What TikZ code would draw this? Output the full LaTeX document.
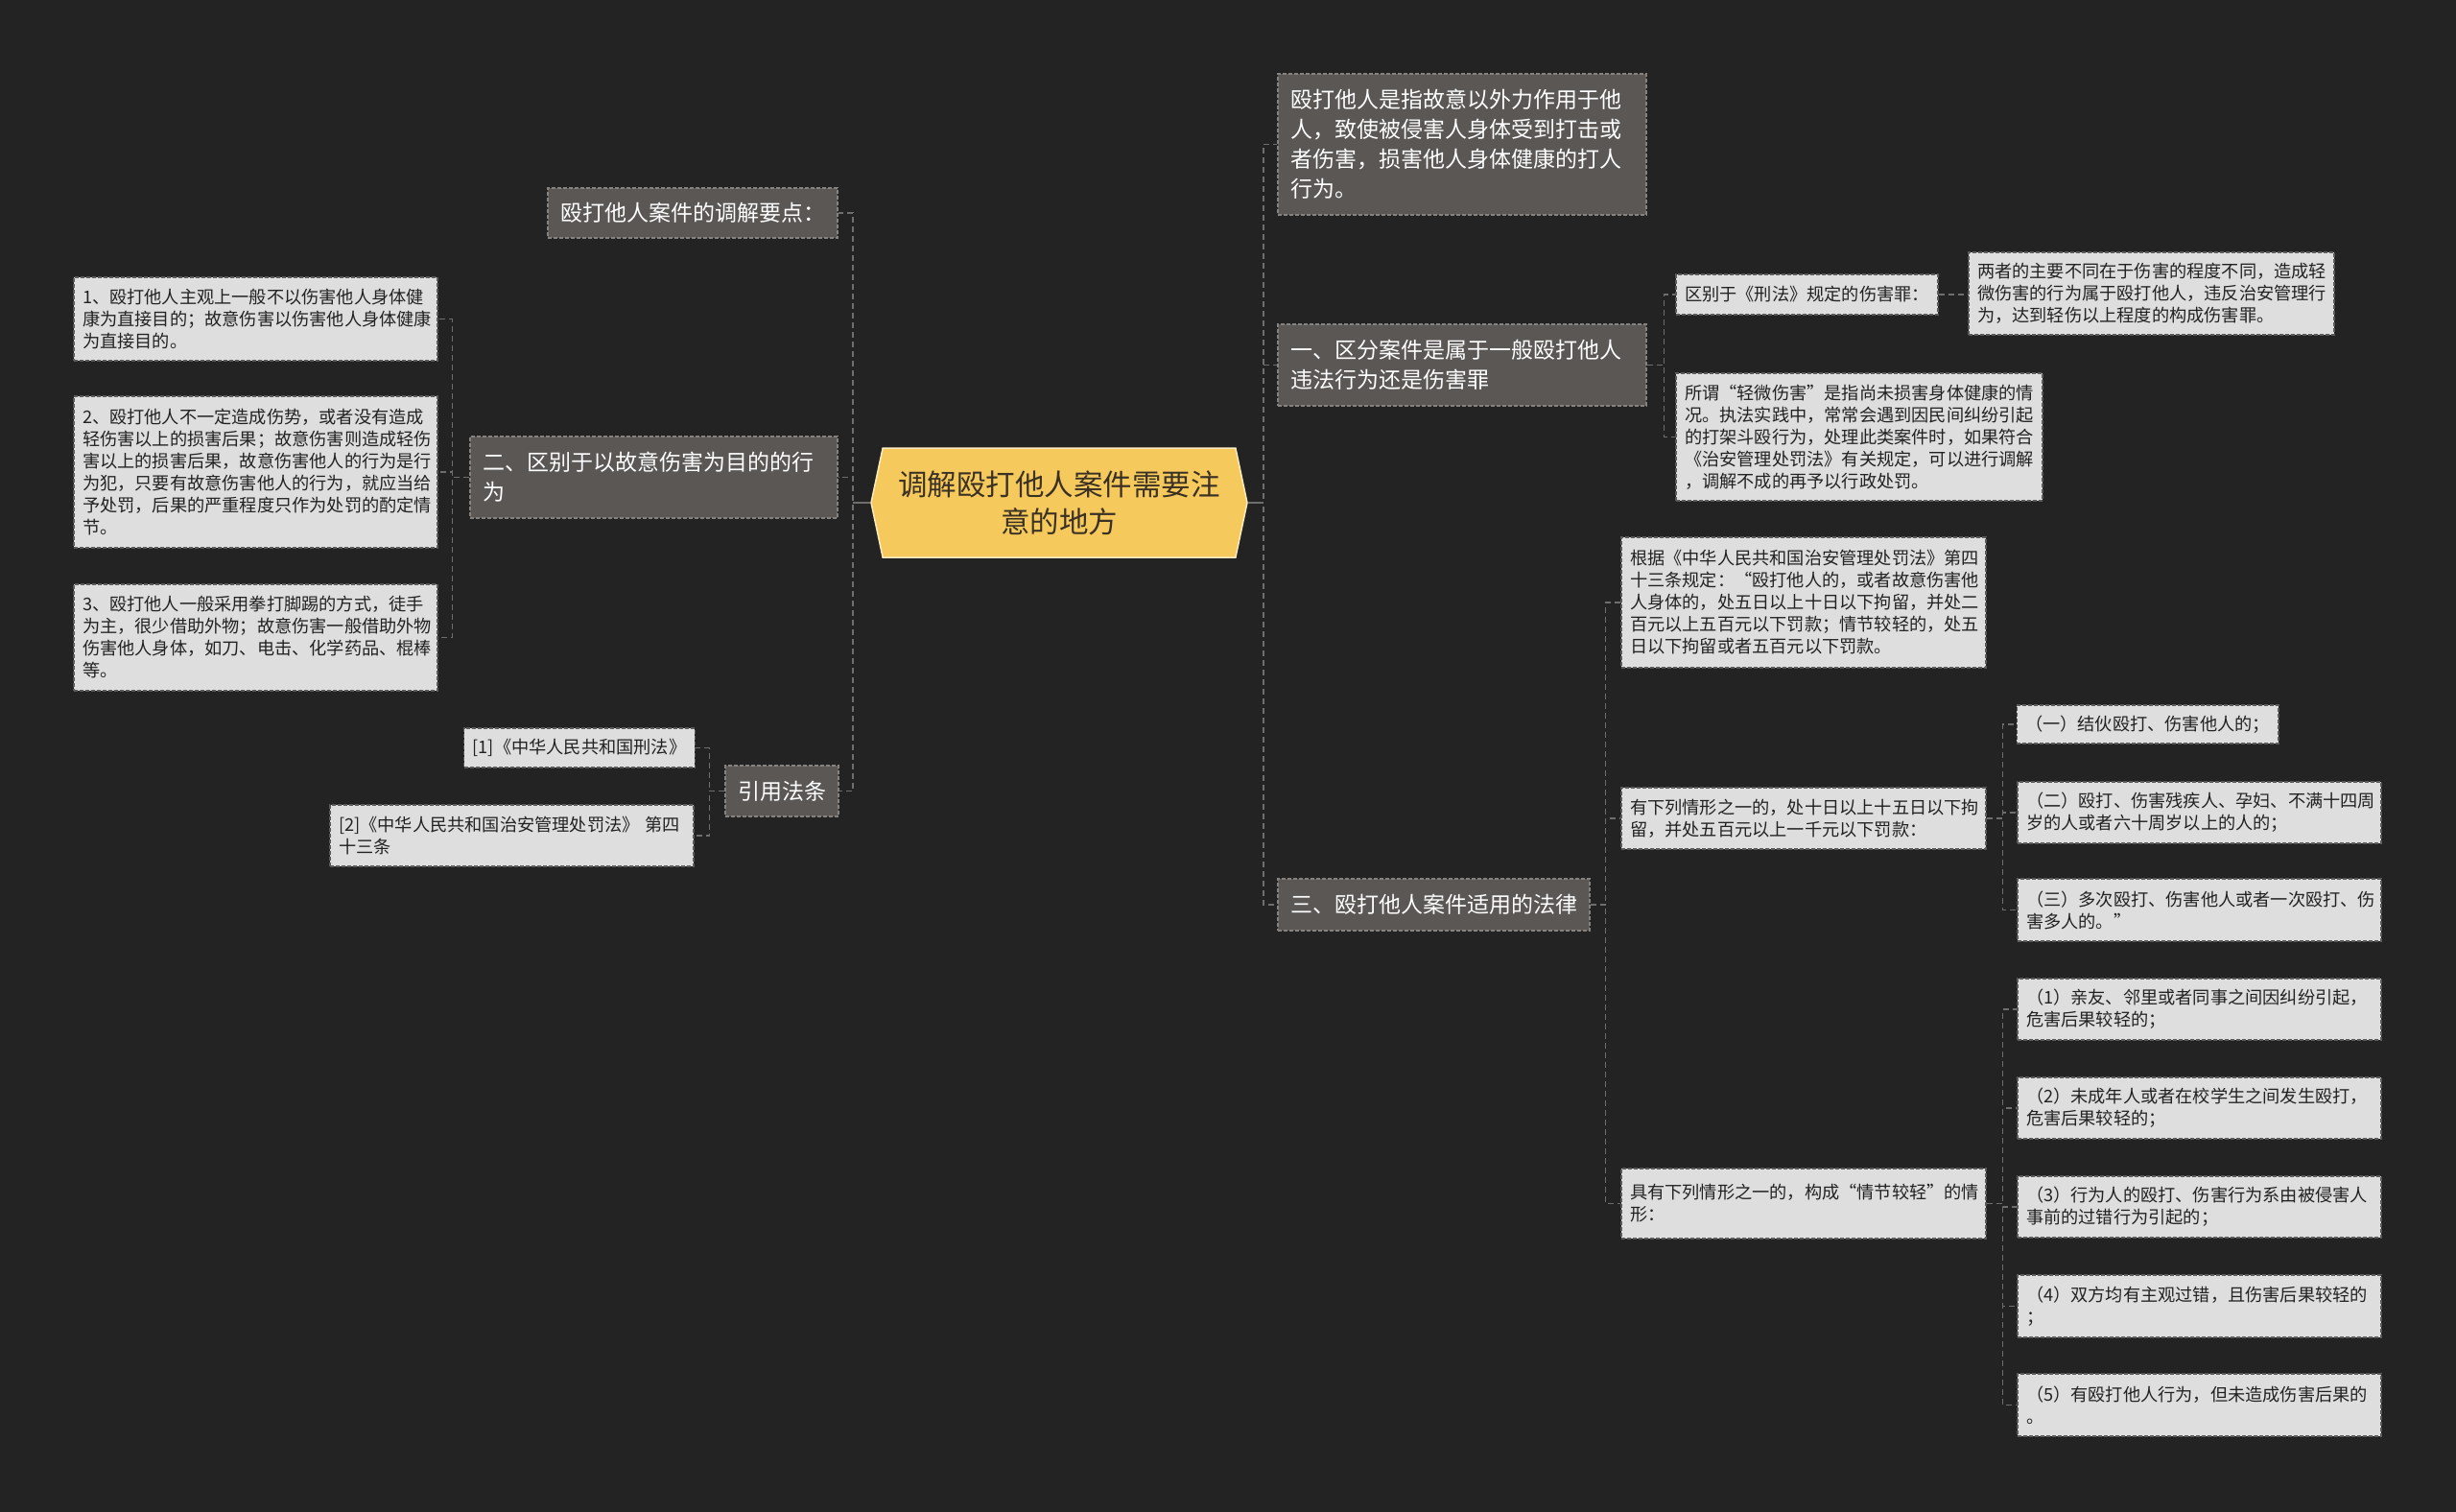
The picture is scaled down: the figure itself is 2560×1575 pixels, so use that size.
\documentclass[tikz,border=0pt]{standalone}
\usepackage{fontspec}
\setmainfont{Noto Sans CJK SC}
\usetikzlibrary{shapes.symbols}
\definecolor{bg}{HTML}{232323}
\definecolor{boxdark}{HTML}{5A5755}
\definecolor{boxdarkline}{HTML}{85827F}
\definecolor{boxlight}{HTML}{DEDEDE}
\definecolor{boxlightline}{HTML}{5A5A5A}
\definecolor{textdark}{HTML}{222222}
\definecolor{linecol}{HTML}{6E6E6E}
\definecolor{centerfill}{HTML}{F5C95C}
\definecolor{centerline}{HTML}{FBEBC0}
\definecolor{centertext}{HTML}{3A3124}
\tikzset{
  base/.style={rectangle, align=left, inner ysep=0pt, dashed, dash pattern=on 4pt off 2pt, line width=1.2pt},
  dark/.style={base, inner xsep=13pt, fill=boxdark, draw=boxdarkline, text=white, font=\fontsize{23}{31}\selectfont},
  light/.style={base, inner xsep=9pt, fill=boxlight, draw=boxlightline, text=textdark, font=\fontsize{18.2}{23}\selectfont},
  conn/.style={draw=linecol, line width=1.5pt, dashed, dash pattern=on 6pt off 4pt},
  trunk/.style={draw=linecol, line width=2.5pt},
}
\begin{document}
\begin{tikzpicture}[x=1pt,y=-1pt]
\useasboundingbox (0,0) rectangle (2560,1575);
\fill[bg] (-10,-10) rectangle (2570,1585);

% center
\node[shape=signal, signal to=west and east, signal pointer angle=156,
      minimum width=392pt, minimum height=114pt, inner sep=0pt,
      fill=centerfill, draw=centerline, line width=1.5pt,
      text width=345pt, align=center, text=centertext,
      font=\fontsize{30.5}{39}\selectfont] (c) at (1104,524)
      {调解殴打他人案件需要注\\意的地方};

% left side
\node[dark, minimum width=302pt, minimum height=52pt, align=center] (tips) at (722,222) {殴打他人案件的调解要点：};
\node[dark, text width=357pt, minimum height=85pt] (b2) at (681.5,497.5) {二、区别于以故意伤害为目的的行\\为};
\node[dark, minimum width=116pt, minimum height=53pt, align=center] (refs) at (815,824.5) {引用法条};

\node[light, text width=361pt, minimum height=87pt] (l1) at (266.5,332.5)
 {1、殴打他人主观上一般不以伤害他人身体健\\康为直接目的；故意伤害以伤害他人身体健康\\为直接目的。};
\node[light, text width=361pt, minimum height=158pt] (l2) at (266.5,492)
 {2、殴打他人不一定造成伤势，或者没有造成\\轻伤害以上的损害后果；故意伤害则造成轻伤\\害以上的损害后果，故意伤害他人的行为是行\\为犯，只要有故意伤害他人的行为，就应当给\\予处罚，后果的严重程度只作为处罚的酌定情\\节。};
\node[light, text width=361pt, minimum height=111pt] (l3) at (266.5,664.5)
 {3、殴打他人一般采用拳打脚踢的方式，徒手\\为主，很少借助外物；故意伤害一般借助外物\\伤害他人身体，如刀、电击、化学药品、棍棒\\等。};

\node[light, minimum width=238pt, minimum height=41pt, align=center] (r1) at (604,779.5) {[1]《中华人民共和国刑法》};
\node[light, text width=361pt, minimum height=64pt] (r2) at (533.5,871) {[2]《中华人民共和国治安管理处罚法》 第四\\十三条};

% right side
\node[dark, text width=358pt, minimum height=147pt] (def) at (1524,150.5)
 {殴打他人是指故意以外力作用于他\\人，致使被侵害人身体受到打击或\\者伤害，损害他人身体健康的打人\\行为。};
\node[dark, text width=358pt, minimum height=85pt] (b1) at (1524,380.5)
 {一、区分案件是属于一般殴打他人\\违法行为还是伤害罪};
\node[dark, text width=299pt, minimum height=54pt] (b3) at (1494.5,943)
 {三、殴打他人案件适用的法律};

\node[light, minimum width=273pt, minimum height=42pt, align=center] (d1) at (1883.5,307) {区别于《刑法》规定的伤害罪：};
\node[light, text width=363pt, minimum height=86pt] (d1a) at (2242.5,306)
 {两者的主要不同在于伤害的程度不同，造成轻\\微伤害的行为属于殴打他人，违反治安管理行\\为，达到轻伤以上程度的构成伤害罪。};
\node[light, text width=364pt, minimum height=133pt] (d2) at (1938,455.5)
 {所谓“轻微伤害”是指尚未损害身体健康的情\\况。执法实践中，常常会遇到因民间纠纷引起\\的打架斗殴行为，处理此类案件时，如果符合\\《治安管理处罚法》有关规定，可以进行调解\\，调解不成的再予以行政处罚。};

\node[light, text width=362pt, minimum height=136pt] (g1) at (1880,628)
 {根据《中华人民共和国治安管理处罚法》第四\\十三条规定：“殴打他人的，或者故意伤害他\\人身体的，处五日以上十日以下拘留，并处二\\百元以上五百元以下罚款；情节较轻的，处五\\日以下拘留或者五百元以下罚款。};
\node[light, text width=362pt, minimum height=64pt] (g2) at (1880,853)
 {有下列情形之一的，处十日以上十五日以下拘\\留，并处五百元以上一千元以下罚款：};
\node[light, text width=362pt, minimum height=73pt] (g3) at (1880,1254.5)
 {具有下列情形之一的，构成“情节较轻”的情\\形：};

\node[light, minimum width=271pt, minimum height=40pt, align=center] (a1) at (2238.5,755) {（一）结伙殴打、伤害他人的；};
\node[light, text width=361pt, minimum height=64pt] (a2) at (2292.5,847)
 {（二）殴打、伤害残疾人、孕妇、不满十四周\\岁的人或者六十周岁以上的人的；};
\node[light, text width=361pt, minimum height=65pt] (a3) at (2292.5,948.5)
 {（三）多次殴打、伤害他人或者一次殴打、伤\\害多人的。”};

\node[light, text width=361pt, minimum height=64pt] (k1) at (2292.5,1052)
 {（1）亲友、邻里或者同事之间因纠纷引起，\\危害后果较轻的；};
\node[light, text width=361pt, minimum height=64pt] (k2) at (2292.5,1155)
 {（2）未成年人或者在校学生之间发生殴打，\\危害后果较轻的；};
\node[light, text width=361pt, minimum height=64pt] (k3) at (2292.5,1258)
 {（3）行为人的殴打、伤害行为系由被侵害人\\事前的过错行为引起的；};
\node[light, text width=361pt, minimum height=65pt] (k4) at (2292.5,1361.5)
 {（4）双方均有主观过错，且伤害后果较轻的\\；};
\node[light, text width=361pt, minimum height=65pt] (k5) at (2292.5,1464.5)
 {（5）有殴打他人行为，但未造成伤害后果的\\。};

% connectors: center
\foreach \n in {def,b1,b3} \draw[conn] (c.east) -- ++(16,0) |- (\n.west);
\foreach \n in {tips,b2,refs} \draw[conn] (c.west) -- ++(-18,0) |- (\n.east);
\draw[trunk] (c.east) -- ++(16,0);
\draw[trunk] (c.west) -- ++(-18,0);

% left subtrees
\foreach \n in {l1,l2,l3} \draw[conn] (b2.west) -- ++(-18,0) |- (\n.east);
\foreach \n in {r1,r2} \draw[conn] (refs.west) -- ++(-16,0) |- (\n.east);

% right subtrees
\foreach \n in {d1,d2} \draw[conn] (b1.east) -- ++(18,0) |- (\n.west);
\draw[conn] (d1.east) -- (d1.east -| d1a.west);
\foreach \n in {g1,g2,g3} \draw[conn] (b3.east) -- ++(16,0) |- (\n.west);
\foreach \n in {a1,a2,a3} \draw[conn] (g2.east) -- ++(17,0) |- (\n.west);
\foreach \n in {k1,k2,k3,k4,k5} \draw[conn] (g3.east) -- ++(17,0) |- (\n.west);
\end{tikzpicture}
\end{document}
